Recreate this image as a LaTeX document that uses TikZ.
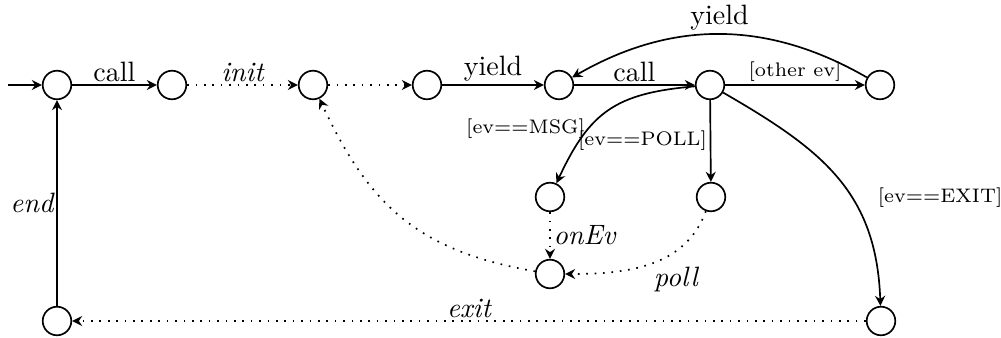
\documentclass[tikz,border=0pt]{standalone}
\usetikzlibrary{arrows.meta}
\begin{document}
\begin{tikzpicture}[x=0.357pt,y=0.357pt,
  st/.style={circle,draw,line width=0.6pt,minimum size=10.2pt,inner sep=0pt},
  tr/.style={line width=0.6pt,-{Stealth[length=3.6pt,width=3.6pt,inset=1.2pt]}},
  dt/.style={tr,dash pattern=on 0.6pt off 2.4pt},
  lbl/.style={inner sep=1pt},
  ilbl/.style={inner sep=1pt,font=\itshape},
  slbl/.style={inner sep=1pt,font=\scriptsize}]
\useasboundingbox (0,0) rectangle (1001,-338);
\coordinate (s) at (8,-85);
\node[st] (n0) at (57,-85) {};
\node[st] (n1) at (172,-85) {};
\node[st] (n2) at (313,-85) {};
\node[st] (n3) at (427,-85) {};
\node[st] (n4) at (559,-85) {};
\node[st] (n5) at (710,-85) {};
\node[st] (n6) at (880,-85) {};
\node[st] (n7) at (550,-197) {};
\node[st] (n8) at (711,-197) {};
\node[st] (n9) at (550,-274) {};
\node[st] (n10) at (57,-321) {};
\node[st] (n11) at (881,-321) {};
\draw[tr] (s) -- (n0);
\draw[tr] (n0) -- node[lbl,above]{call} (n1);
\draw[dt] (n1) -- node[ilbl,above]{init} (n2);
\draw[dt] (n2) -- (n3);
\draw[tr] (n3) -- node[lbl,above]{yield} (n4);
\draw[tr] (n4) -- node[lbl,above]{call} (n5);
\draw[tr] (n5) -- node[slbl,above]{[other ev]} (n6);
\draw[tr] (n6) to[out=150,in=30] node[lbl,above]{yield} (n4);
\draw[tr] (n5) to[out=185,in=65,looseness=1.2] node[slbl,pos=0.6,anchor=east,xshift=-3pt,yshift=-3pt]{[ev==MSG]} (n7);
\draw[tr] (n5) -- node[slbl,left]{[ev==POLL]} (n8);
\draw[tr] (n5) to[out=-30,in=92,looseness=1.1] node[slbl,pos=0.6,anchor=west,xshift=8pt]{[ev==EXIT]} (n11);
\draw[dt] (n7) -- node[ilbl,right]{onEv} (n9);
\draw[dt] (n8) to[out=-110,in=0] node[ilbl,below right]{poll} (n9);
\draw[dt] (n9) to[out=170,in=-65,looseness=1.1] (n2);
\draw[dt] (n11) -- node[ilbl,above]{exit} (n10);
\draw[tr] (n10) -- node[ilbl,left]{end} (n0);
\end{tikzpicture}
\end{document}
